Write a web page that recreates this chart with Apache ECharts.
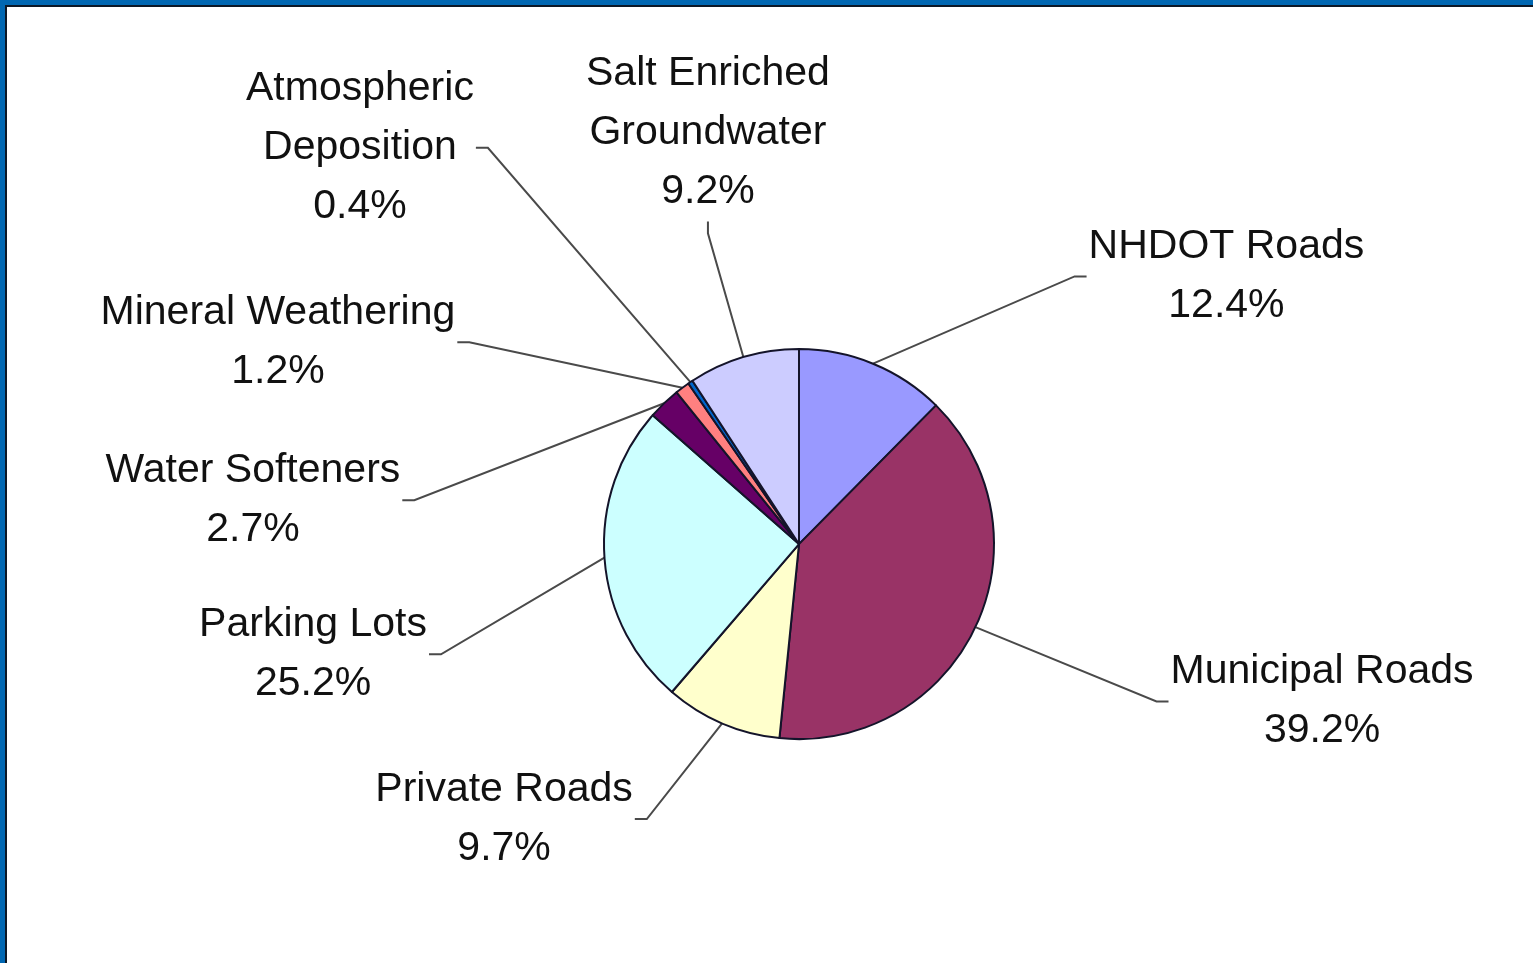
<!DOCTYPE html>
<html>
<head>
<meta charset="utf-8">
<script src="https://cdn.jsdelivr.net/npm/echarts@6/dist/echarts.min.js"></script>
<style>
  html, body { margin: 0; padding: 0; background: #ffffff; overflow: hidden; }
  #chart { position: absolute; left: 0; top: 0; width: 1533px; height: 963px; }
  #frame {
    position: absolute; left: 0; top: 0; width: 1533px; height: 963px;
    box-sizing: border-box; pointer-events: none;
    border-top: 5px solid #0067b2; border-left: 5px solid #0067b2;
  }
  #frame::after {
    content: ''; position: absolute; left: 0; top: 0; right: 0; bottom: 0;
    border-top: 2px solid #0c1826; border-left: 2px solid #0c1826;
  }
</style>
</head>
<body>
<div id="chart"></div>
<div id="frame"></div>
<script>
// Sources of chloride load, clockwise from 12 o'clock
const categories = [
  'NHDOT Roads',
  'Municipal Roads',
  'Private Roads',
  'Parking Lots',
  'Water Softeners',
  'Mineral Weathering',
  'Atmospheric\nDeposition',
  'Salt Enriched\nGroundwater'
];
const shares = [12.4, 39.2, 9.7, 25.2, 2.7, 1.2, 0.4, 9.2];

const sliceColors = ['#9999ff', '#993366', '#ffffcc', '#ccffff', '#660066', '#ff8080', '#0066cc', '#ccccff'];

// centre of each label block (percent of chart width / height)
const labelSpots = [
  ['80.0%', '28.7%'],
  ['86.24%', '72.85%'],
  ['32.88%', '85.05%'],
  ['20.42%', '67.95%'],
  ['16.5%', '51.95%'],
  ['18.13%', '35.55%'],
  ['23.48%', '15.35%'],
  ['46.18%', '13.8%']
];

const chart = echarts.init(document.getElementById('chart'), null, { renderer: 'canvas' });

const pieData = categories.map((name, i) => ({
  name: name,
  value: shares[i],
  itemStyle: { color: sliceColors[i] }
}));

chart.setOption({
  animation: false,
  backgroundColor: '#ffffff',
  series: [{
    type: 'pie',
    center: ['52.12%', '56.5%'],
    radius: 195,
    startAngle: 90,
    clockwise: true,
    avoidLabelOverlap: false,
    data: pieData,
    itemStyle: { borderColor: '#14142a', borderWidth: 2 },
    label: {
      show: true,
      position: 'outside',
      formatter: '{b}\n{c}%',
      fontFamily: '"Liberation Sans", Arial, sans-serif',
      fontSize: 41,
      lineHeight: 59,
      color: '#111111',
      align: 'center',
      padding: [0, 2]
    },
    labelLine: {
      show: true,
      length: 20,
      length2: 12,
      lineStyle: { color: '#4a4a4a', width: 2 }
    },
    labelLayout: function (params) {
      const spot = labelSpots[params.dataIndex];
      return { x: spot[0], y: spot[1], align: 'center', verticalAlign: 'middle' };
    },
    emphasis: { disabled: true }
  }]
});
</script>
</body>
</html>
